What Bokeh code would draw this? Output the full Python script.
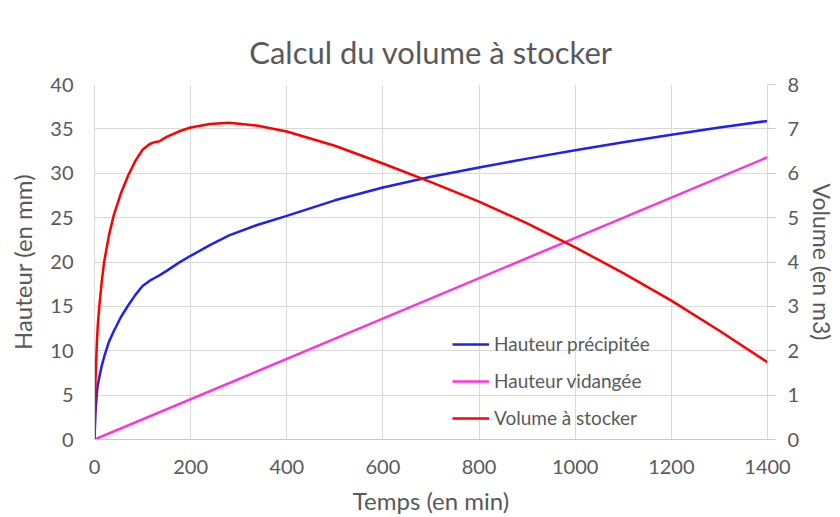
from bokeh.plotting import figure
from bokeh.models import Range1d, LinearAxis, FixedTicker
from bokeh.embed import file_html
from bokeh.resources import INLINE

# Data
temps = [0, 2, 5, 7, 10, 15, 20, 30, 40, 55, 70, 85, 100, 115, 125, 135, 150, 175,
         200, 240, 280, 340, 400, 500, 600, 700, 800, 900, 1000, 1100, 1200, 1300, 1400]
hauteur_precipitee = [0, 3.0, 5.3, 6.2, 7.0, 8.3, 9.3, 11.0, 12.2, 13.8, 15.1, 16.3,
                      17.3, 17.9, 18.2, 18.5, 19.0, 19.9, 20.7, 21.9, 23.0, 24.2, 25.2,
                      26.95, 28.4, 29.6, 30.65, 31.65, 32.6, 33.5, 34.35, 35.15, 35.9]
volume_a_stocker = [0, 1.3, 2.2, 2.6, 3.0, 3.55, 4.0, 4.6, 5.05, 5.55, 5.95, 6.28,
                    6.53, 6.66, 6.70, 6.72, 6.82, 6.94, 7.03, 7.11, 7.14, 7.07, 6.94,
                    6.62, 6.22, 5.80, 5.36, 4.87, 4.33, 3.75, 3.13, 2.45, 1.74]
temps_vidange = [0, 1400]
hauteur_vidangee = [0, 31.8]

x_ticks = [0, 200, 400, 600, 800, 1000, 1200, 1400]
y_ticks = [0, 5, 10, 15, 20, 25, 30, 35, 40]
vol_ticks = [0, 1, 2, 3, 4, 5, 6, 7, 8]

FONT = "Lato"
TXT = "#595959"
GRID = "#d9d9d9"

p = figure(frame_width=673, frame_height=355, x_range=Range1d(0, 1400), y_range=Range1d(0, 40),
           output_backend="svg", toolbar_location=None,
           min_border_left=94, min_border_right=0, min_border_top=84, min_border_bottom=0)
p.extra_y_ranges = {"vol": Range1d(0, 8)}
p.outline_line_color = None
p.background_fill_color = "white"
p.border_fill_color = "white"

p.title.text = "Calcul du volume à stocker"
p.title.align = "center"
p.title.text_font = FONT
p.title.text_font_size = "31px"
p.title.text_font_style = "normal"
p.title.text_color = TXT
p.title.standoff = 28

# grids
p.xgrid.ticker = FixedTicker(ticks=x_ticks)
p.ygrid.ticker = FixedTicker(ticks=y_ticks)
for g in (p.xgrid, p.ygrid):
    g.grid_line_color = GRID
    g.grid_line_width = 1

# bottom axis
xa = p.xaxis[0]
xa.ticker = FixedTicker(ticks=x_ticks)
xa.axis_line_color = "#c8c8c8"
xa.major_tick_line_color = None
xa.minor_tick_line_color = None
xa.major_label_standoff = 14
xa.axis_label = "Temps (en min)"
xa.axis_label_standoff = 9

# left axis
ya = p.yaxis[0]
ya.ticker = FixedTicker(ticks=y_ticks)
ya.axis_line_color = GRID
ya.major_tick_line_color = None
ya.minor_tick_line_color = None
ya.major_label_standoff = 15
ya.axis_label = "Hauteur (en mm)"
ya.axis_label_standoff = 10

# right axis
ra = LinearAxis(y_range_name="vol", ticker=FixedTicker(ticks=vol_ticks))
ra.axis_line_color = GRID
ra.major_tick_line_color = "#c8c8c8"
ra.major_tick_out = 8
ra.major_tick_in = 0
ra.minor_tick_line_color = None
ra.major_label_standoff = 12
ra.axis_label = "Volume (en m3)"
ra.axis_label_standoff = 6
p.add_layout(ra, "right")

for ax in (xa, ya, ra):
    ax.major_label_text_font = FONT
    ax.major_label_text_font_size = "20px"
    ax.major_label_text_color = TXT
    ax.axis_label_text_font = FONT
    ax.axis_label_text_font_size = "24px"
    ax.axis_label_text_font_style = "normal"
    ax.axis_label_text_color = TXT
ra.axis_label_text_font_size = "23px"

p.line(temps, hauteur_precipitee, line_color="#2020F0", line_width=2.5,
       legend_label="Hauteur précipitée")
p.line(temps_vidange, hauteur_vidangee, line_color="#FF33DD", line_width=2.5,
       legend_label="Hauteur vidangée")
p.line(temps, volume_a_stocker, y_range_name="vol", line_color="#FF0000", line_width=2.5,
       legend_label="Volume à stocker")

lg = p.legend[0]
lg.location = (358, 10)
lg.orientation = "vertical"
lg.background_fill_alpha = 0
lg.border_line_alpha = 0
lg.padding = 0
lg.margin = 0
lg.spacing = 14
lg.glyph_width = 37
lg.glyph_height = 20
lg.label_height = 20
lg.label_standoff = 5
lg.label_text_font = FONT
lg.label_text_font_size = "19px"
lg.label_text_color = TXT

open("out.html", "w").write(file_html(p, INLINE))
